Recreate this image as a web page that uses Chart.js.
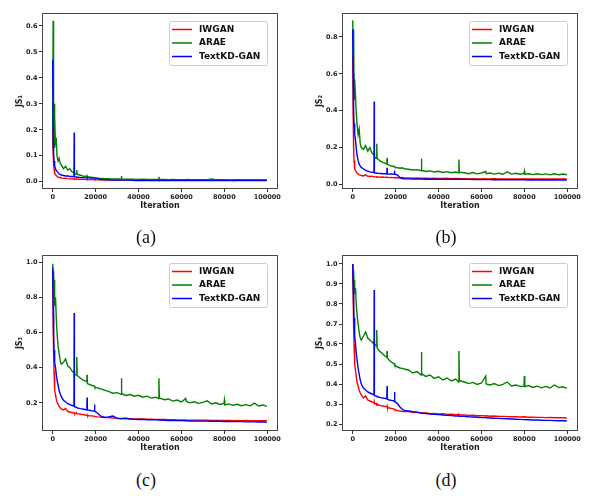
<!DOCTYPE html>
<html>
<head>
<meta charset="utf-8">
<title>JS curves</title>
<script src="https://cdn.jsdelivr.net/npm/chart.js@4.4.1/dist/chart.umd.min.js"></script>
<style>
body { margin: 0; background: #fff; }
#fig { position: relative; width: 613px; height: 500px; overflow: hidden; }
.panel { position: absolute; }
.cap { position: absolute; font-family: "Liberation Serif", serif; font-size: 18px; color: #111;
       transform: translate(-50%, -50%); white-space: nowrap; }
</style>
</head>
<body>
<div id="fig">
  <canvas id="c1" class="panel" width="300" height="225" style="left:0;top:0"></canvas>
  <canvas id="c2" class="panel" width="300" height="225" style="left:300px;top:0"></canvas>
  <canvas id="c3" class="panel" width="300" height="225" style="left:0;top:242px"></canvas>
  <canvas id="c4" class="panel" width="300" height="225" style="left:300px;top:242px"></canvas>
  <div class="cap" style="left:146px;top:237px">(a)</div>
  <div class="cap" style="left:446px;top:237px">(b)</div>
  <div class="cap" style="left:146px;top:480px">(c)</div>
  <div class="cap" style="left:446px;top:480px">(d)</div>
</div>
<script>
// iterations (shared by every curve)
var iters = [
  0, 200, 400, 600, 800, 1000, 1300, 1600, 2000, 2500, 3000, 3500, 4000,
  5000, 6000, 7000, 8000, 9000, 9900, 10000, 10100, 11000, 11200, 11400,
  12000, 13000, 14000, 15000, 15900, 16000, 16100, 17000, 18000, 19400, 19500, 19600, 20000, 21000, 22000, 23000, 24000,
  26000, 28000, 30000, 31900, 32000, 32200, 34000, 36000, 38000, 40000, 42000, 44000, 46000, 48000, 49400, 49500, 49700,
  52000, 54000, 56000, 58000, 60000, 62000, 62200, 64000, 66000, 68000, 70000, 72000, 74000, 76000, 78000,
  79800, 80000, 80200, 82000, 84000, 86000, 88000, 90000, 92000, 94000, 96000, 98000, 99800
];
var seriesNames = ['IWGAN', 'ARAE', 'TextKD-GAN'];
var xTicks = [0, 20000, 40000, 60000, 80000, 100000];

// (a) JS1
var js1Iwgan = [
  0.20, 0.11, 0.07, 0.05, 0.04, 0.032, 0.028, 0.024, 0.020, 0.018, 0.016, 0.017, 0.014,
  0.013, 0.014, 0.012, 0.011, 0.012, 0.010, 0.011, 0.010, 0.010, 0.011, 0.009,
  0.010, 0.009, 0.010, 0.008, 0.009, 0.008, 0.009, 0.008, 0.009, 0.008, 0.007, 0.008, 0.008, 0.007, 0.008, 0.007, 0.007,
  0.007, 0.006, 0.007, 0.006, 0.007, 0.006, 0.006, 0.007, 0.006, 0.006, 0.007, 0.006, 0.006, 0.006, 0.007, 0.006, 0.006,
  0.006, 0.006, 0.007, 0.006, 0.006, 0.008, 0.006, 0.006, 0.006, 0.007, 0.006, 0.006, 0.006, 0.006, 0.006,
  0.006, 0.006, 0.006, 0.006, 0.005, 0.006, 0.006, 0.006, 0.006, 0.007, 0.006, 0.006, 0.006
];
var js1Arae = [
  0.15, 0.62, 0.20, 0.30, 0.13, 0.25, 0.14, 0.17, 0.10, 0.08, 0.09, 0.07, 0.065,
  0.05, 0.06, 0.045, 0.05, 0.038, 0.035, 0.04, 0.03, 0.03, 0.045, 0.028,
  0.027, 0.025, 0.022, 0.021, 0.02, 0.022, 0.019, 0.018, 0.017, 0.016, 0.018, 0.015, 0.014, 0.014, 0.013, 0.013, 0.012,
  0.012, 0.011, 0.011, 0.011, 0.022, 0.011, 0.010, 0.010, 0.010, 0.009, 0.010, 0.009, 0.009, 0.009, 0.009, 0.019, 0.009,
  0.009, 0.008, 0.009, 0.008, 0.008, 0.008, 0.009, 0.008, 0.008, 0.008, 0.008, 0.008, 0.011, 0.008, 0.008,
  0.008, 0.008, 0.008, 0.007, 0.007, 0.008, 0.007, 0.007, 0.007, 0.007, 0.007, 0.007, 0.007
];
var js1TextKd = [
  0.47, 0.15, 0.10, 0.08, 0.065, 0.06, 0.05, 0.045, 0.04, 0.035, 0.03, 0.028, 0.026,
  0.024, 0.022, 0.022, 0.02, 0.02, 0.019, 0.19, 0.019, 0.018, 0.018, 0.017,
  0.017, 0.016, 0.016, 0.015, 0.015, 0.016, 0.015, 0.015, 0.014, 0.014, 0.015, 0.014, 0.014, 0.012, 0.009, 0.008, 0.007,
  0.007, 0.006, 0.006, 0.006, 0.006, 0.006, 0.006, 0.006, 0.005, 0.005, 0.005, 0.005, 0.005, 0.005, 0.005, 0.005, 0.005,
  0.005, 0.005, 0.005, 0.005, 0.005, 0.005, 0.005, 0.005, 0.005, 0.005, 0.005, 0.005, 0.005, 0.005, 0.005,
  0.005, 0.005, 0.005, 0.005, 0.005, 0.005, 0.005, 0.005, 0.005, 0.005, 0.005, 0.005, 0.005
];
var js1Ticks = [0.0, 0.1, 0.2, 0.3, 0.4, 0.5, 0.6];

// (b) JS2
var js2Iwgan = [
  0.70, 0.40, 0.20, 0.13, 0.10, 0.085, 0.075, 0.068, 0.062, 0.056, 0.052, 0.05, 0.048,
  0.046, 0.052, 0.044, 0.043, 0.045, 0.042, 0.041, 0.042, 0.041, 0.040, 0.041,
  0.040, 0.039, 0.040, 0.038, 0.039, 0.038, 0.039, 0.037, 0.038, 0.037, 0.038, 0.036, 0.037, 0.036, 0.036, 0.037, 0.035,
  0.035, 0.034, 0.035, 0.033, 0.034, 0.033, 0.033, 0.032, 0.033, 0.032, 0.032, 0.033, 0.031, 0.032, 0.031, 0.032, 0.031,
  0.031, 0.030, 0.031, 0.030, 0.030, 0.031, 0.030, 0.030, 0.031, 0.030, 0.029, 0.030, 0.030, 0.029, 0.030,
  0.029, 0.030, 0.029, 0.030, 0.029, 0.030, 0.029, 0.030, 0.029, 0.030, 0.029, 0.029, 0.030
];
var js2Arae = [
  0.89, 0.62, 0.84, 0.55, 0.46, 0.57, 0.48, 0.40, 0.33, 0.27, 0.30, 0.22, 0.20,
  0.19, 0.21, 0.18, 0.20, 0.17, 0.16, 0.17, 0.15, 0.14, 0.22, 0.14,
  0.135, 0.125, 0.12, 0.115, 0.11, 0.145, 0.11, 0.105, 0.10, 0.098, 0.10, 0.095, 0.092, 0.09, 0.088, 0.09, 0.085,
  0.082, 0.078, 0.08, 0.074, 0.14, 0.077, 0.07, 0.073, 0.067, 0.071, 0.065, 0.069, 0.063, 0.067, 0.063, 0.135, 0.066,
  0.063, 0.058, 0.064, 0.057, 0.062, 0.07, 0.058, 0.062, 0.056, 0.061, 0.055, 0.068, 0.056, 0.06, 0.055,
  0.059, 0.072, 0.055, 0.058, 0.053, 0.058, 0.053, 0.057, 0.052, 0.058, 0.052, 0.056, 0.052
];
var js2TextKd = [
  0.84, 0.60, 0.37, 0.33, 0.30, 0.27, 0.24, 0.20, 0.16, 0.13, 0.11, 0.10, 0.092,
  0.085, 0.076, 0.072, 0.068, 0.066, 0.065, 0.45, 0.063, 0.062, 0.061, 0.060,
  0.060, 0.059, 0.058, 0.058, 0.057, 0.09, 0.057, 0.056, 0.056, 0.055, 0.075, 0.055, 0.054, 0.05, 0.036, 0.032, 0.03,
  0.03, 0.029, 0.03, 0.029, 0.029, 0.029, 0.028, 0.029, 0.028, 0.028, 0.028, 0.027, 0.028, 0.027, 0.027, 0.028, 0.027,
  0.027, 0.027, 0.026, 0.027, 0.026, 0.026, 0.026, 0.026, 0.025, 0.026, 0.025, 0.026, 0.025, 0.025, 0.025,
  0.025, 0.025, 0.025, 0.024, 0.025, 0.024, 0.025, 0.024, 0.024, 0.025, 0.024, 0.024, 0.024
];
var js2Ticks = [0.0, 0.2, 0.4, 0.6, 0.8];

// (c) JS3
var js3Iwgan = [
  0.95, 0.70, 0.50, 0.38, 0.31, 0.27, 0.245, 0.225, 0.205, 0.19, 0.18, 0.172, 0.166,
  0.16, 0.168, 0.152, 0.148, 0.145, 0.142, 0.143, 0.14, 0.14, 0.141, 0.138,
  0.137, 0.135, 0.133, 0.131, 0.13, 0.132, 0.129, 0.127, 0.126, 0.124, 0.125, 0.123, 0.122, 0.12, 0.119, 0.118, 0.117,
  0.116, 0.114, 0.113, 0.112, 0.112, 0.112, 0.111, 0.11, 0.109, 0.108, 0.108, 0.107, 0.107, 0.106, 0.106, 0.106, 0.105,
  0.105, 0.104, 0.104, 0.103, 0.103, 0.103, 0.102, 0.102, 0.102, 0.101, 0.101, 0.101, 0.1, 0.1, 0.1,
  0.1, 0.1, 0.1, 0.1, 0.099, 0.099, 0.099, 0.1, 0.098, 0.098, 0.099, 0.098, 0.098
];
var js3Arae = [
  0.99, 0.85, 0.95, 0.82, 0.90, 0.75, 0.80, 0.70, 0.60, 0.52, 0.48, 0.44, 0.42,
  0.43, 0.45, 0.41, 0.40, 0.38, 0.37, 0.38, 0.36, 0.36, 0.46, 0.355,
  0.35, 0.34, 0.33, 0.325, 0.32, 0.36, 0.31, 0.305, 0.30, 0.295, 0.29, 0.292, 0.288, 0.285, 0.28, 0.278, 0.272,
  0.265, 0.255, 0.258, 0.248, 0.34, 0.252, 0.242, 0.247, 0.238, 0.243, 0.232, 0.238, 0.227, 0.232, 0.224, 0.34, 0.228,
  0.218, 0.222, 0.21, 0.216, 0.205, 0.225, 0.208, 0.20, 0.206, 0.197, 0.203, 0.212, 0.194, 0.20, 0.191,
  0.196, 0.215, 0.188, 0.194, 0.186, 0.192, 0.184, 0.19, 0.183, 0.198, 0.182, 0.188, 0.18
];
var js3TextKd = [
  0.97, 0.75, 0.58, 0.50, 0.46, 0.43, 0.40, 0.37, 0.33, 0.30, 0.27, 0.25, 0.235,
  0.215, 0.205, 0.195, 0.19, 0.185, 0.18, 0.71, 0.178, 0.175, 0.173, 0.172,
  0.17, 0.167, 0.165, 0.162, 0.16, 0.23, 0.16, 0.158, 0.155, 0.153, 0.19, 0.152, 0.15, 0.14, 0.128, 0.122, 0.118,
  0.12, 0.125, 0.112, 0.11, 0.11, 0.11, 0.112, 0.108, 0.106, 0.105, 0.106, 0.104, 0.104, 0.103, 0.102, 0.103, 0.102,
  0.101, 0.1, 0.1, 0.099, 0.099, 0.098, 0.098, 0.097, 0.097, 0.096, 0.096, 0.096, 0.095, 0.095, 0.095,
  0.094, 0.094, 0.094, 0.094, 0.093, 0.093, 0.093, 0.092, 0.092, 0.092, 0.091, 0.092, 0.09
];
var js3Ticks = [0.2, 0.4, 0.6, 0.8, 1.0];

// (d) JS4
var js4Iwgan = [
  1.0, 0.85, 0.70, 0.60, 0.53, 0.50, 0.47, 0.44, 0.41, 0.39, 0.37, 0.355, 0.345,
  0.33, 0.34, 0.32, 0.315, 0.31, 0.305, 0.31, 0.30, 0.302, 0.298, 0.30,
  0.295, 0.292, 0.29, 0.288, 0.286, 0.29, 0.285, 0.28, 0.278, 0.275, 0.276, 0.272, 0.27, 0.267, 0.265, 0.264, 0.262,
  0.262, 0.258, 0.26, 0.256, 0.258, 0.255, 0.256, 0.252, 0.253, 0.25, 0.251, 0.248, 0.249, 0.247, 0.246, 0.248, 0.245,
  0.245, 0.243, 0.244, 0.241, 0.242, 0.24, 0.241, 0.239, 0.24, 0.238, 0.238, 0.237, 0.236, 0.237, 0.235,
  0.236, 0.235, 0.236, 0.234, 0.234, 0.233, 0.233, 0.232, 0.233, 0.231, 0.232, 0.231, 0.23
];
var js4Arae = [
  1.0, 0.90, 0.97, 0.88, 0.92, 0.85, 0.88, 0.80, 0.75, 0.70, 0.66, 0.63, 0.62,
  0.64, 0.66, 0.63, 0.62, 0.61, 0.60, 0.62, 0.60, 0.59, 0.67, 0.58,
  0.57, 0.56, 0.55, 0.54, 0.535, 0.565, 0.53, 0.52, 0.51, 0.50, 0.505, 0.495, 0.49, 0.485, 0.48, 0.478, 0.475,
  0.47, 0.455, 0.462, 0.445, 0.56, 0.452, 0.438, 0.445, 0.428, 0.436, 0.42, 0.43, 0.415, 0.425, 0.41, 0.565, 0.418,
  0.41, 0.402, 0.408, 0.398, 0.405, 0.44, 0.40, 0.395, 0.402, 0.392, 0.398, 0.41, 0.39, 0.395, 0.388,
  0.388, 0.44, 0.387, 0.392, 0.383, 0.389, 0.381, 0.388, 0.38, 0.395, 0.382, 0.386, 0.378
];
var js4TextKd = [
  1.0, 0.90, 0.80, 0.73, 0.68, 0.64, 0.60, 0.56, 0.52, 0.48, 0.45, 0.42, 0.40,
  0.38, 0.37, 0.36, 0.355, 0.35, 0.345, 0.87, 0.342, 0.34, 0.338, 0.336,
  0.335, 0.332, 0.33, 0.328, 0.325, 0.39, 0.325, 0.32, 0.318, 0.315, 0.36, 0.313, 0.31, 0.30, 0.285, 0.275, 0.268,
  0.265, 0.262, 0.258, 0.255, 0.258, 0.254, 0.252, 0.25, 0.248, 0.247, 0.245, 0.244, 0.242, 0.24, 0.24, 0.241, 0.239,
  0.238, 0.236, 0.235, 0.234, 0.232, 0.232, 0.231, 0.23, 0.229, 0.228, 0.227, 0.226, 0.225, 0.224, 0.223,
  0.222, 0.222, 0.222, 0.221, 0.22, 0.22, 0.219, 0.218, 0.218, 0.217, 0.216, 0.216, 0.215
];
var js4Ticks = [0.2, 0.3, 0.4, 0.5, 0.6, 0.7, 0.8, 0.9, 1.0];

var colors = ['#ff0000', '#008000', '#0000ff'];
var drawOrder = [1, 2, 0];   // blue on top, then red, green underneath

Chart.defaults.font.family = '"DejaVu Sans", sans-serif';
Chart.defaults.color = '#222';

// frame + legend box (matplotlib look)
var framePlugin = {
  id: 'frame',
  afterDatasetsDraw: function(chart) {
    var a = chart.chartArea, ctx = chart.ctx;
    ctx.save();
    ctx.strokeStyle = '#444';
    ctx.lineWidth = 1;
    ctx.strokeRect(a.left + 0.5, a.top + 0.5, a.right - a.left - 1, a.bottom - a.top - 1);

    var bw = 98, bh = 44;
    var bx = Math.round(a.right - 11 - bw), by = Math.round(a.top + 8);
    ctx.fillStyle = 'rgba(255,255,255,0.9)';
    ctx.strokeStyle = '#cccccc';
    ctx.beginPath();
    ctx.roundRect(bx + 0.5, by + 0.5, bw, bh, 2);
    ctx.fill();
    ctx.stroke();

    ctx.font = 'bold 9px "DejaVu Sans"';
    ctx.textBaseline = 'middle';
    ctx.textAlign = 'left';
    chart.data.datasets.forEach(function(ds, i) {
      var y = by + 8.5 + i * 13.5;
      ctx.strokeStyle = ds.borderColor;
      ctx.lineWidth = 1.5;
      ctx.beginPath();
      ctx.moveTo(bx + 3, y);
      ctx.lineTo(bx + 23, y);
      ctx.stroke();
      ctx.fillStyle = '#111';
      ctx.fillText(ds.label, bx + 30, y);
    });
    ctx.restore();
  }
};

function makePanel(id, yTitle, yMin, yMax, yTicks, curves) {
  var datasets = curves.map(function(vals, i) {
    return {
      label: seriesNames[i],
      data: iters.map(function(x, k) { return {x: x, y: vals[k]}; }),
      borderColor: colors[i],
      borderWidth: 1.4,
      pointRadius: 0,
      tension: 0,
      fill: false,
      order: drawOrder[i]
    };
  });

  new Chart(document.getElementById(id).getContext('2d'), {
    type: 'line',
    data: {datasets: datasets},
    options: {
      responsive: false,
      animation: false,
      devicePixelRatio: 1,
      layout: {padding: {left: 0, top: 13, right: 22, bottom: 0}},
      plugins: {legend: {display: false}, tooltip: {enabled: false}},
      scales: {
        x: {
          type: 'linear',
          min: -5000,
          max: 105000,
          afterBuildTicks: function(s) { s.ticks = xTicks.map(function(v) { return {value: v}; }); },
          afterFit: function(s) { s.height = 36; },
          grid: {drawOnChartArea: false, drawTicks: true, tickLength: 3, tickColor: '#333'},
          border: {display: false},
          ticks: {
            maxRotation: 0, padding: 1,
            font: {size: 6.5, weight: 'bold'},
            callback: function(v) { return String(v); }
          },
          title: {display: true, text: 'Iteration', font: {size: 8, weight: 'bold'},
                  color: '#222', padding: {top: 0, bottom: 14}}
        },
        y: {
          min: yMin,
          max: yMax,
          afterBuildTicks: function(s) { s.ticks = yTicks.map(function(v) { return {value: v}; }); },
          afterFit: function(s) { s.width = 42; },
          grid: {drawOnChartArea: false, drawTicks: true, tickLength: 3, tickColor: '#333'},
          border: {display: false},
          ticks: {
            padding: 1.5,
            font: {size: 6.5, weight: 'bold'},
            callback: function(v) { return v.toFixed(1); }
          },
          title: {display: true, text: yTitle, font: {size: 8, weight: 'bold'},
                  color: '#222', padding: {top: 15, bottom: 0}}
        }
      }
    },
    plugins: [framePlugin]
  });
}

makePanel('c1', 'JS\u2081', -0.028, 0.65, js1Ticks, [js1Iwgan, js1Arae, js1TextKd]);
makePanel('c2', 'JS\u2082', -0.025, 0.93, js2Ticks, [js2Iwgan, js2Arae, js2TextKd]);
makePanel('c3', 'JS\u2083', 0.04, 1.04, js3Ticks, [js3Iwgan, js3Arae, js3TextKd]);
makePanel('c4', 'JS\u2084', 0.165, 1.045, js4Ticks, [js4Iwgan, js4Arae, js4TextKd]);
</script>
</body>
</html>
